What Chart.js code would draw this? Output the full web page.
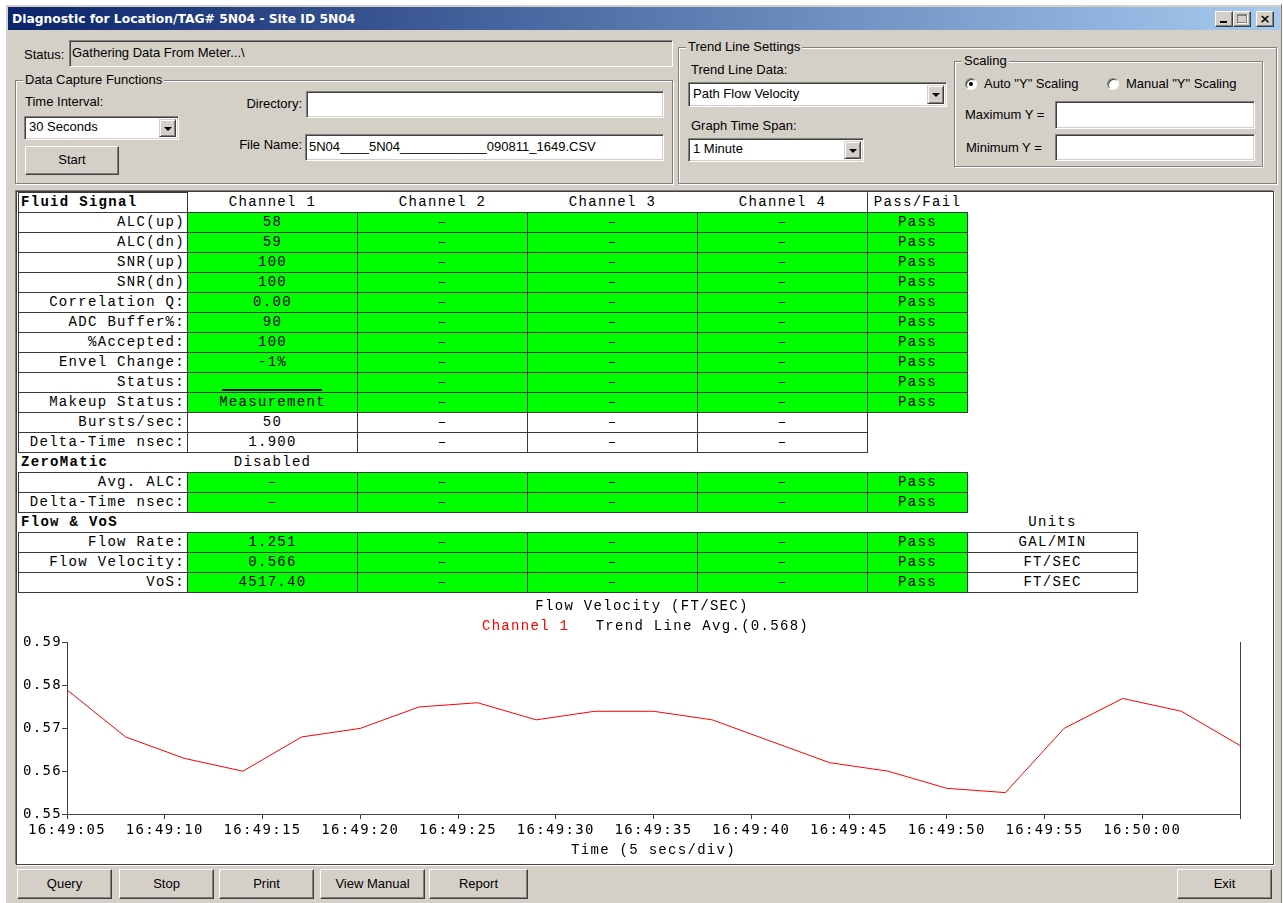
<!DOCTYPE html>
<html>
<head>
<meta charset="utf-8">
<title>Diagnostic for Location/TAG# 5N04 - Site ID 5N04</title>
<script src="https://cdn.jsdelivr.net/npm/chart.js@4.4.1/dist/chart.umd.min.js"></script>
<style>
  html, body { margin:0; padding:0; width:1283px; height:903px; overflow:hidden; background:#fff; }
  body { position:relative; font-family:"Liberation Sans", Arial, sans-serif; font-size:13px; color:#000; }
  .a { position:absolute; box-sizing:border-box; }
  .lbl { position:absolute; white-space:nowrap; line-height:16px; }
  .sunk { position:absolute; box-sizing:border-box; background:#fff; border:1px solid; border-color:#808080 #fff #fff #808080;
          box-shadow: inset 1px 1px 0 #404040, inset -1px -1px 0 #d4d0c8; padding-left:4px; white-space:nowrap; overflow:hidden; }
  .btn { position:absolute; box-sizing:border-box; background:#d4d0c8; border:1px solid; border-color:#fff #404040 #404040 #fff;
         box-shadow: inset -1px -1px 0 #808080; text-align:center; white-space:nowrap; }
  .grp { position:absolute; box-sizing:border-box; border:1px solid #808080; box-shadow: inset 1px 1px 0 #fff, 1px 1px 0 #fff; }
  .grp > span { position:absolute; top:-9px; left:7px; background:#d4d0c8; padding:0 2px; line-height:16px; white-space:nowrap; }
  .drop { position:absolute; top:2px; right:2px; width:17px; bottom:2px; background:#d4d0c8; box-sizing:border-box;
          border:1px solid; border-color:#d4d0c8 #404040 #404040 #d4d0c8; box-shadow: inset 1px 1px 0 #fff, inset -1px -1px 0 #808080; }
  .drop::after { content:""; position:absolute; left:4px; top:7px; border-left:4px solid transparent; border-right:4px solid transparent; border-top:4px solid #000; }
  .radio { position:absolute; width:12px; height:12px; border-radius:50%; box-sizing:border-box; background:#fff;
           border:1px solid; border-color:#808080 #fff #fff #808080; box-shadow: inset 1px 1px 0 #404040; }
  .cell { position:absolute; box-sizing:border-box; height:21px; line-height:18px; border:1px solid transparent;
          font-family:"Liberation Mono", monospace; font-size:14px; letter-spacing:1.3px; white-space:nowrap; overflow:hidden; }
</style>
</head>
<body>
<!-- window frame and caption -->
<div class="a" style="left:5px;top:4px;width:1276px;height:899px;background:#d4d0c8;box-shadow:inset 1px 1px 0 #fff,1px 0 0 #808080"></div>
<div class="a" style="left:8px;top:7px;width:1272px;height:23px;background:linear-gradient(to right,#0a246a,#a6caf0)"></div>
<div class="lbl" style="left:12px;top:11px;color:#fff;font:bold 12.3px 'DejaVu Sans',sans-serif;line-height:16px">Diagnostic for Location/TAG# 5N04 - Site ID 5N04</div>
<div class="btn" style="left:1215px;top:11px;width:18px;height:16px"><div style="position:absolute;left:4px;top:9px;width:7px;height:2px;background:#000"></div></div>
<div class="btn" style="left:1233px;top:11px;width:18px;height:16px"><div style="position:absolute;left:3px;top:2px;width:10px;height:9px;border:1px solid #808080;border-top-width:2px;box-sizing:border-box;box-shadow:1px 1px 0 #fff"></div></div>
<div class="btn" style="left:1256px;top:11px;width:18px;height:16px;font:bold 13px 'DejaVu Sans',sans-serif;line-height:13px">×</div>

<!-- status -->
<div class="lbl" style="left:24px;top:47px">Status:</div>
<div class="sunk" style="left:69px;top:40px;width:604px;height:27px;background:#d4d0c8;line-height:23px;padding-left:2px">Gathering Data From Meter...\</div>

<!-- data capture functions -->
<div class="grp" style="left:15px;top:80px;width:658px;height:104px"><span>Data Capture Functions</span></div>
<div class="lbl" style="left:25px;top:94px">Time Interval:</div>
<div class="sunk" style="left:24px;top:116px;width:155px;height:24px;line-height:20px">30 Seconds<div class="drop"></div></div>
<div class="btn" style="left:25px;top:146px;width:94px;height:29px;line-height:26px">Start</div>
<div class="lbl" style="left:200px;top:96px;width:102px;text-align:right">Directory:</div>
<div class="sunk" style="left:306px;top:91px;width:358px;height:27px"></div>
<div class="lbl" style="left:200px;top:137px;width:102px;text-align:right">File Name:</div>
<div class="sunk" style="left:305px;top:134px;width:359px;height:27px;line-height:23px;padding-left:3px">5N04____5N04____________090811_1649.CSV</div>

<!-- trend line settings -->
<div class="grp" style="left:678px;top:47px;width:599px;height:137px"><span>Trend Line Settings</span></div>
<div class="lbl" style="left:691px;top:62px">Trend Line Data:</div>
<div class="sunk" style="left:688px;top:82px;width:259px;height:25px;line-height:21px">Path Flow Velocity<div class="drop"></div></div>
<div class="lbl" style="left:691px;top:118px">Graph Time Span:</div>
<div class="sunk" style="left:688px;top:138px;width:176px;height:24px;line-height:20px">1 Minute<div class="drop"></div></div>
<div class="grp" style="left:954px;top:61px;width:309px;height:106px"><span>Scaling</span></div>
<div class="radio" style="left:965px;top:78px"><div style="position:absolute;left:3px;top:3px;width:4px;height:4px;border-radius:50%;background:#000"></div></div>
<div class="lbl" style="left:984px;top:76px">Auto "Y" Scaling</div>
<div class="radio" style="left:1107px;top:78px"></div>
<div class="lbl" style="left:1126px;top:76px">Manual "Y" Scaling</div>
<div class="lbl" style="left:965px;top:107px">Maximum Y =</div>
<div class="sunk" style="left:1055px;top:101px;width:200px;height:28px"></div>
<div class="lbl" style="left:966px;top:140px">Minimum Y =</div>
<div class="sunk" style="left:1055px;top:134px;width:200px;height:27px"></div>

<!-- main white panel -->
<div class="a" style="left:16px;top:191px;width:1258px;height:674px;background:#fff;border:1px solid #404040;box-shadow:-1px -1px 0 #808080,1px 1px 0 #fff"></div>
<div id="table"></div>
<canvas id="trend" width="1253" height="269" style="position:absolute;left:18px;top:593px"></canvas>

<!-- bottom buttons -->
<div class="btn" style="left:17px;top:869px;width:95px;height:30px;line-height:27px">Query</div>
<div class="btn" style="left:119px;top:869px;width:95px;height:30px;line-height:27px">Stop</div>
<div class="btn" style="left:219px;top:869px;width:95px;height:30px;line-height:27px">Print</div>
<div class="btn" style="left:320px;top:869px;width:105px;height:30px;line-height:27px">View Manual</div>
<div class="btn" style="left:429px;top:869px;width:99px;height:30px;line-height:27px">Report</div>
<div class="btn" style="left:1177px;top:869px;width:95px;height:30px;line-height:27px">Exit</div>

<script>
// ---- trend line data (one sample every 3 s, seconds after 16:49:05) ----
var sampleSecs  = [0, 3, 6, 9, 12, 15, 18, 21, 24, 27, 30, 33, 36, 39, 42, 45, 48, 51, 54, 57, 60];
var ch1Velocity = [0.579, 0.568, 0.563, 0.560, 0.568, 0.570, 0.575, 0.576, 0.572, 0.574, 0.574,
                   0.572, 0.567, 0.562, 0.560, 0.556, 0.555, 0.570, 0.577, 0.574, 0.566];
var timeLabels  = ['16:49:05', '16:49:10', '16:49:15', '16:49:20', '16:49:25', '16:49:30',
                   '16:49:35', '16:49:40', '16:49:45', '16:49:50', '16:49:55', '16:50:00'];
var yMin = 0.55, yMax = 0.59, yStep = 0.01;

// ---- diagnostic table ----
var DASH = '\u2013';
var GREEN = '#00ff00';
var colX = [18, 187, 357, 527, 697, 867, 967, 1137];
var tableTop = 192, rowH = 20;
var channelHeads = ['Channel 1', 'Channel 2', 'Channel 3', 'Channel 4'];
// [kind, label, channel values, pass/fail, units]
var tableRows = [
  ['head',  'Fluid Signal'],
  ['green', 'ALC(up)',          ['58', DASH, DASH, DASH], 'Pass'],
  ['green', 'ALC(dn)',          ['59', DASH, DASH, DASH], 'Pass'],
  ['green', 'SNR(up)',          ['100', DASH, DASH, DASH], 'Pass'],
  ['green', 'SNR(dn)',          ['100', DASH, DASH, DASH], 'Pass'],
  ['green', 'Correlation Q:',   ['0.00', DASH, DASH, DASH], 'Pass'],
  ['green', 'ADC Buffer%:',     ['90', DASH, DASH, DASH], 'Pass'],
  ['green', '%Accepted:',       ['100', DASH, DASH, DASH], 'Pass'],
  ['green', 'Envel Change:',    ['-1%', DASH, DASH, DASH], 'Pass'],
  ['green', 'Status:',          ['', DASH, DASH, DASH], 'Pass'],
  ['green', 'Makeup Status:',   ['Measurement', DASH, DASH, DASH], 'Pass'],
  ['white', 'Bursts/sec:',      ['50', DASH, DASH, DASH]],
  ['white', 'Delta-Time nsec:', ['1.900', DASH, DASH, DASH]],
  ['section', 'ZeroMatic', 1, 'Disabled'],
  ['green', 'Avg. ALC:',        [DASH, DASH, DASH, DASH], 'Pass'],
  ['green', 'Delta-Time nsec:', [DASH, DASH, DASH, DASH], 'Pass'],
  ['section', 'Flow & VoS', 6, 'Units'],
  ['green', 'Flow Rate:',       ['1.251', DASH, DASH, DASH], 'Pass', 'GAL/MIN'],
  ['green', 'Flow Velocity:',   ['0.566', DASH, DASH, DASH], 'Pass', 'FT/SEC'],
  ['green', 'VoS:',             ['4517.40', DASH, DASH, DASH], 'Pass', 'FT/SEC']
];

var table = document.getElementById('table');
function addCell(c0, c1, r, text, o) {
  var d = document.createElement('div');
  d.className = 'cell';
  d.style.left = colX[c0] + 'px';
  d.style.width = (colX[c1] - colX[c0] + 1) + 'px';
  d.style.top = (tableTop + r * rowH) + 'px';
  if (o.fill) d.style.background = o.fill;
  if (o.border) d.style.borderColor = '#383838';
  if (o.borderLeft) d.style.borderLeftColor = '#383838';
  d.style.textAlign = o.align || 'center';
  if (o.align == 'right') d.style.paddingRight = '2px';
  if (o.align == 'left') d.style.paddingLeft = '2px';
  if (o.bold) d.style.fontWeight = 'bold';
  d.textContent = text;
  table.appendChild(d);
  return d;
}

tableRows.forEach(function (row, r) {
  var kind = row[0];
  if (kind == 'head') {
    addCell(0, 1, r, row[1], {border: true, align: 'left', bold: true});
    channelHeads.forEach(function (h, i) { addCell(i + 1, i + 2, r, h, {}); });
    addCell(5, 6, r, 'Pass/Fail', {borderLeft: true});
  } else if (kind == 'section') {
    addCell(0, 1, r, row[1], {align: 'left', bold: true});
    addCell(row[2], row[2] + 1, r, row[3], {});
  } else {
    var fill = kind == 'green' ? GREEN : '#fff';
    addCell(0, 1, r, row[1], {border: true, align: 'right', fill: '#fff'});
    row[2].forEach(function (v, i) { addCell(i + 1, i + 2, r, v, {border: true, fill: fill}); });
    if (row[3]) addCell(5, 6, r, row[3], {border: true, fill: GREEN});
    if (row[4]) addCell(6, 7, r, row[4], {border: true, fill: '#fff'});
  }
});
// underline bar in the Channel 1 status cell
var bar = document.createElement('div');
bar.className = 'a';
bar.style.cssText = 'left:222px;top:389px;width:100px;height:2px;background:#000';
table.appendChild(bar);

// ---- trend chart ----
var avg = ch1Velocity.reduce(function (a, b) { return a + b; }, 0) / ch1Velocity.length;
var points = sampleSecs.map(function (s, i) { return {x: s, y: ch1Velocity[i]}; });

var spacingPlugin = {
  id: 'spacing',
  beforeLayout: function (chart) { chart.ctx.letterSpacing = '1.3px'; },
  beforeDraw: function (chart) { chart.ctx.letterSpacing = '1.3px'; }
};

var axisColor = '#404040';
var monoTitle = {family: 'Liberation Mono', size: 14, weight: 'normal'};
var monoTick = {family: 'DejaVu Sans Mono', size: 14};

var ctx = document.getElementById('trend').getContext('2d');
var trend = new Chart(ctx, {
  type: 'line',
  data: {
    datasets: [{
      label: 'Channel 1',
      data: points,
      borderColor: '#ff0000',
      borderWidth: 1,
      pointRadius: 0,
      tension: 0,
      fill: false
    }]
  },
  options: {
    responsive: false,
    animation: false,
    devicePixelRatio: 1,
    events: [],
    layout: {padding: {left: 0, right: 5, top: 0, bottom: 0}},
    plugins: {
      title: {
        display: true,
        text: 'Flow Velocity (FT/SEC)',
        color: '#000',
        font: monoTitle,
        padding: {top: 5, bottom: 4}
      },
      legend: {
        display: true,
        labels: {
          boxWidth: 0,
          padding: 0,
          font: monoTitle,
          generateLabels: function () {
            return [
              {text: 'Channel 1  ', fontColor: '#ff0000', fillStyle: 'rgba(0,0,0,0)', strokeStyle: 'rgba(0,0,0,0)', lineWidth: 0},
              {text: 'Trend Line Avg.(' + avg.toFixed(3) + ')', fontColor: '#000', fillStyle: 'rgba(0,0,0,0)', strokeStyle: 'rgba(0,0,0,0)', lineWidth: 0}
            ];
          }
        }
      },
      tooltip: {enabled: false}
    },
    scales: {
      x: {
        type: 'linear',
        min: 0,
        max: 60,
        ticks: {
          stepSize: 5,
          autoSkip: false,
          maxRotation: 0,
          padding: 3,
          color: '#000',
          font: monoTick,
          callback: function (v, i) { return timeLabels[i] || ''; }
        },
        grid: {drawOnChartArea: false, tickLength: 5, color: axisColor},
        border: {color: axisColor},
        title: {display: true, text: 'Time (5 secs/div)', color: '#000', font: monoTitle, padding: {top: 0, bottom: 3}},
        afterFit: function (s) { s.height = 48; }
      },
      y: {
        min: yMin,
        max: yMax,
        ticks: {
          stepSize: yStep,
          padding: 0,
          color: '#000',
          font: monoTick,
          callback: function (v) { return v.toFixed(2); }
        },
        grid: {drawOnChartArea: false, tickLength: 5, color: axisColor},
        border: {color: axisColor},
        afterFit: function (s) { s.width = 49; }
      },
      y2: {
        position: 'right',
        ticks: {display: false},
        grid: {drawOnChartArea: false, drawTicks: false},
        border: {color: axisColor},
        afterFit: function (s) { s.width = 26; }
      }
    }
  },
  plugins: [spacingPlugin]
});
</script>
</body>
</html>
